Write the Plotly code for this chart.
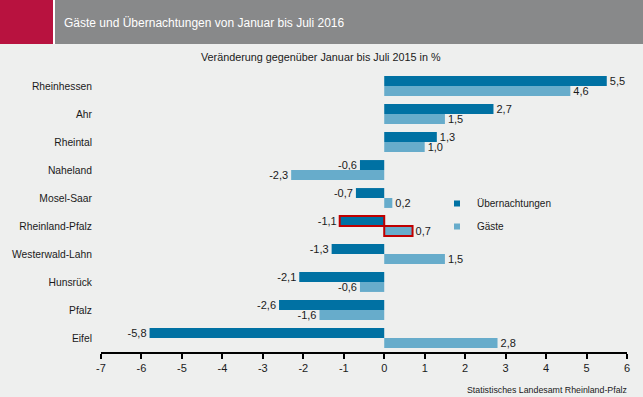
import plotly.graph_objects as go

# ---- data ----
regions = ["Rheinhessen", "Ahr", "Rheintal", "Naheland", "Mosel-Saar",
           "Rheinland-Pfalz", "Westerwald-Lahn", "Hunsrück", "Pfalz", "Eifel"]
uebernachtungen = [5.5, 2.7, 1.3, -0.6, -0.7, -1.1, -1.3, -2.1, -2.6, -5.8]
gaeste = [4.6, 1.5, 1.0, -2.3, 0.2, 0.7, 1.5, -0.6, -1.6, 2.8]
x_ticks = [-7, -6, -5, -4, -3, -2, -1, 0, 1, 2, 3, 4, 5, 6]
highlight = "Rheinland-Pfalz"

# ---- layout constants ----
W, H = 643, 397
L, R, T, B = 101, 16, 72, 45
PW, PH = W - L - R, H - T - B
BG = "#EEEFEE"
DARK = "#0071A3"
LIGHT = "#67ACCB"
RED = "#C00000"
FONT = "Arial, Liberation Sans, sans-serif"


def px(x):
    return (x - L) / PW


def py(y):
    return (H - B - y) / PH


def fmt(v):
    return f"{v:.1f}".replace(".", ",")


line_w = [2 if r == highlight else 0 for r in regions]
line_c = [RED if r == highlight else "rgba(0,0,0,0)" for r in regions]

fig = go.Figure()
fig.add_trace(go.Bar(
    y=regions, x=uebernachtungen, orientation="h", name="Übernachtungen",
    marker=dict(color=DARK, line=dict(color=line_c, width=line_w)),
    text=[fmt(v) for v in uebernachtungen], textposition="outside",
    textfont=dict(size=11, color="#1a1a1a", family=FONT),
    cliponaxis=False, constraintext="none", showlegend=False,
))
fig.add_trace(go.Bar(
    y=regions, x=gaeste, orientation="h", name="Gäste",
    marker=dict(color=LIGHT, line=dict(color=line_c, width=line_w)),
    text=[fmt(v) for v in gaeste], textposition="outside",
    textfont=dict(size=11, color="#1a1a1a", family=FONT),
    cliponaxis=False, constraintext="none", showlegend=False,
))
# legend entries
fig.add_trace(go.Scatter(x=[None], y=[None], mode="markers", name="Übernachtungen",
                         marker=dict(symbol="square", size=6, color=DARK),
                         legendgroup="a"))
fig.add_trace(go.Scatter(x=[None], y=[None], mode="markers", name="Gäste",
                         marker=dict(symbol="square", size=6, color=LIGHT),
                         legendgroup="b"))

xmin, xmax = x_ticks[0], x_ticks[-1]
zero_pos = (0 - xmin) / (xmax - xmin)
n = len(regions)

shapes = [
    dict(type="rect", xref="paper", yref="paper", x0=px(0), x1=px(W), y0=py(44), y1=py(0),
         fillcolor="white", line=dict(width=0), layer="below"),
    dict(type="rect", xref="paper", yref="paper", x0=px(0), x1=px(53), y0=py(44), y1=py(0),
         fillcolor="#B8123F", line=dict(width=0), layer="below"),
    dict(type="rect", xref="paper", yref="paper", x0=px(55), x1=px(W), y0=py(44), y1=py(0),
         fillcolor="#88898A", line=dict(width=0), layer="below"),
]

annotations = [
    dict(text="Gäste und Übernachtungen von Januar bis Juli 2016", xref="paper", yref="paper",
         x=px(62), y=py(23), xanchor="left", yanchor="middle", showarrow=False,
         font=dict(size=12, color="white", family=FONT)),
    dict(text="Veränderung gegenüber Januar bis Juli 2015 in %", xref="paper", yref="paper",
         x=px(321), y=py(57), xanchor="center", yanchor="middle", showarrow=False,
         font=dict(size=10.8, color="#1a1a1a", family=FONT)),
    dict(text="Statistisches Landesamt Rheinland-Pfalz", xref="paper", yref="paper",
         x=px(629), y=py(390), xanchor="right", yanchor="middle", showarrow=False,
         font=dict(size=8.8, color="#1a1a1a", family=FONT)),
]

fig.update_layout(
    width=W, height=H,
    margin=dict(l=L, r=R, t=T, b=B, pad=0, autoexpand=False),
    paper_bgcolor=BG, plot_bgcolor=BG,
    font=dict(family=FONT, size=11, color="#1a1a1a"),
    barmode="group", bargap=0.29, bargroupgap=0,
    xaxis=dict(range=[xmin, xmax], tickvals=x_ticks, ticktext=[str(t) for t in x_ticks],
               showgrid=False, zeroline=False, showline=True, linecolor="black", linewidth=2,
               ticks="outside", ticklen=5, tickwidth=1.5, tickcolor="black",
               tickfont=dict(size=11), automargin=False),
    yaxis=dict(type="category", categoryorder="array", categoryarray=regions,
               autorange="reversed", showgrid=False, zeroline=False, showline=False,
               ticks="", ticklabelstandoff=8, tickfont=dict(size=10.3), automargin=False),
    yaxis2=dict(overlaying="y", anchor="free", position=zero_pos, side="left",
                range=[n - 0.5, -0.5], tickvals=[i - 0.5 for i in range(n + 1)],
                showticklabels=False, ticks="outside", ticklen=3, tickcolor="black",
                showline=True, linecolor="black", linewidth=1, showgrid=False, zeroline=False,
                automargin=False),
    legend=dict(x=px(437), y=py(189), xanchor="left", yanchor="top",
                bgcolor="rgba(0,0,0,0)", font=dict(size=10), traceorder="grouped",
                tracegroupgap=4),
    shapes=shapes, annotations=annotations,
)

fig.write_html("out.html", config={"displayModeBar": False},
               post_script="document.body.style.margin='0px';document.body.style.padding='0px';")
